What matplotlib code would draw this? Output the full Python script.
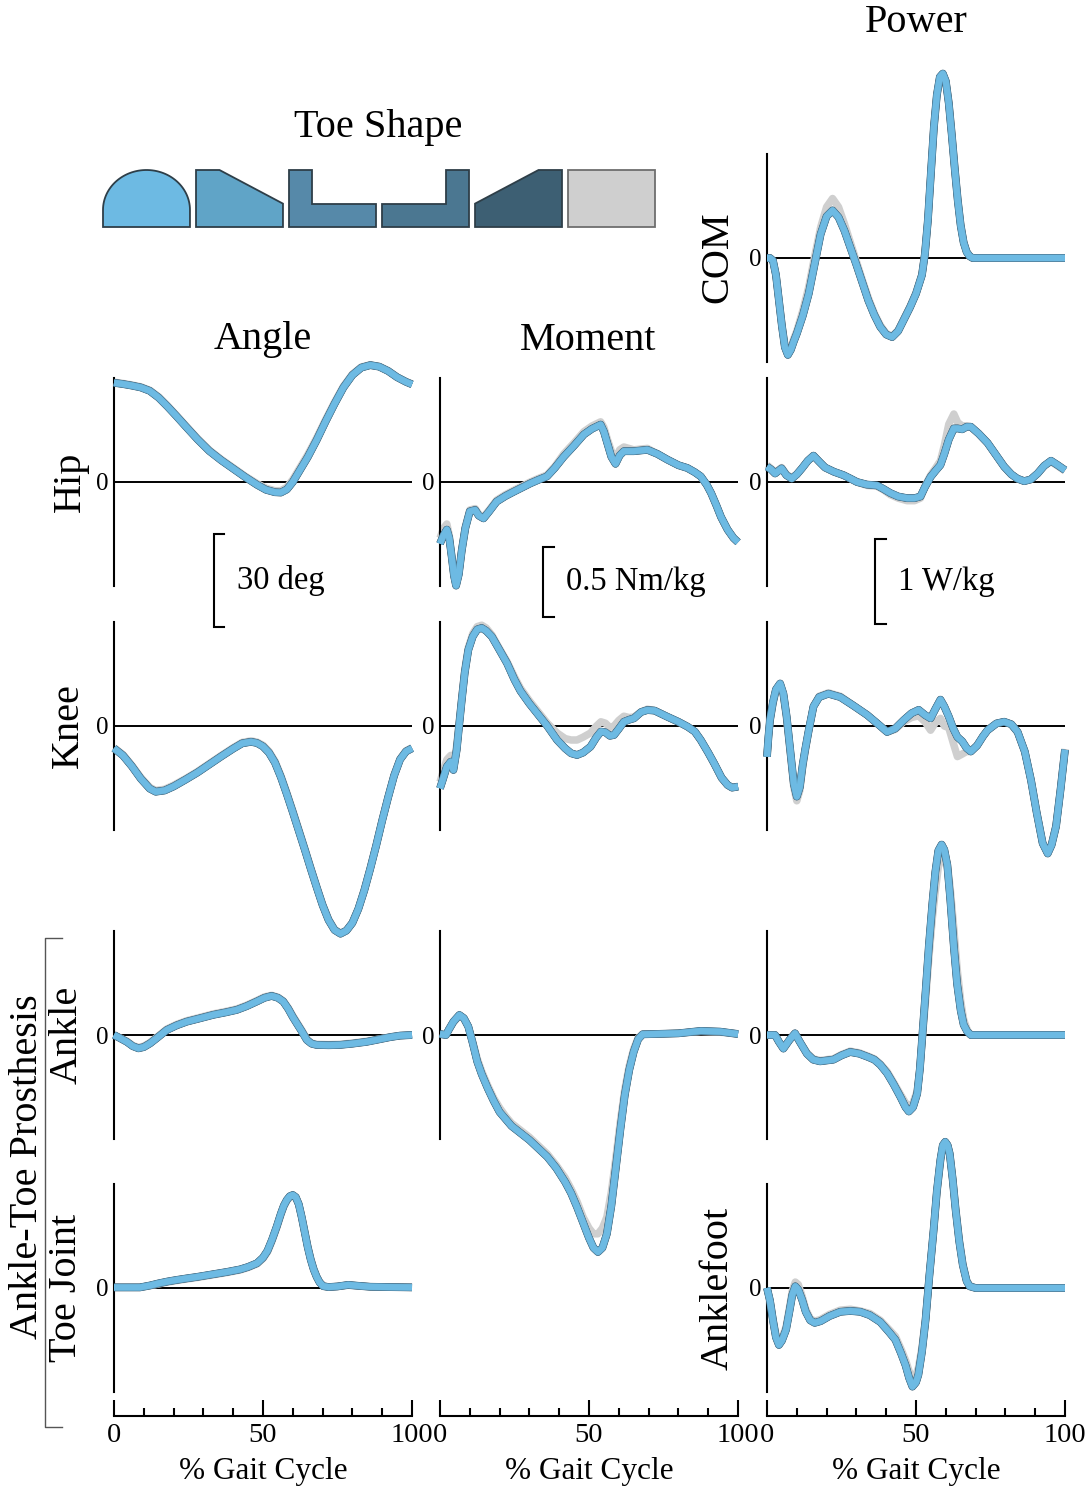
import numpy as np
import matplotlib
matplotlib.use("Agg")
import matplotlib.pyplot as plt
from matplotlib.patches import Polygon
from matplotlib.lines import Line2D

plt.rcParams["font.family"] = ["Liberation Serif", "DejaVu Serif"]

W, H = 1087, 1489

# toe shapes (rounded, sloped-front, L, reversed L, sloped-back) and the reference foot
SHADES = ["#6DBAE3", "#60A4C7", "#5689A9", "#4B7791", "#3D5F73"]
GREY = "#CFCFCF"

# ---------------- joint data (% gait cycle vs value) ----------------
# Hip angle (deg)
hip_ang_x = [0, 3, 6, 9, 12, 15, 18, 21, 24, 28, 32, 36, 40, 44, 48, 51, 54, 56, 58, 60, 62, 65,
             68, 71, 74, 77, 80, 83, 86, 89, 92, 95, 98, 100]
hip_ang_y = [32, 31.6, 31.1, 30.5, 29.4, 27.2, 24.3, 21.2, 18.0, 13.8, 10.0, 7.0, 4.3, 1.6, -0.9,
             -2.5, -3.3, -3.4, -2.4, 0.0, 3.2, 8.0, 13.5, 19.5, 25.2, 30.5, 34.5, 36.9, 37.7,
             37.2, 35.8, 33.8, 32.3, 31.5]
hip_ang_ref = [32.2, 31.8, 31.3, 30.7, 29.6, 27.5, 24.6, 21.5, 18.3, 14.1, 10.3, 7.3, 4.6, 1.9,
               -0.5, -2.0, -2.8, -2.8, -1.7, 0.8, 4.0, 8.8, 14.2, 20.1, 25.7, 30.9, 34.8, 37.1,
               37.8, 37.3, 35.9, 33.9, 32.4, 31.6]

# Hip moment (Nm/kg)
hip_mom_x = [0, 1.2, 2.3, 3.1, 3.9, 4.7, 5.4, 6.3, 7.3, 8.5, 10, 11.8, 13, 14.6, 16.5, 19, 22,
             24.7, 27.5, 30.3, 33, 35.9, 38.5, 41.5, 45, 48.3, 51, 53.9, 55, 56.1, 57.5, 58.9,
             60.3, 61.7, 65, 69.6, 73, 76.3, 80, 83, 85.5, 87.5, 89.5, 91, 92.8, 94.3, 96.5,
             98.5, 100]
hip_mom_y = [-0.44, -0.38, -0.34, -0.40, -0.53, -0.67, -0.74, -0.66, -0.49, -0.33, -0.21, -0.20,
             -0.24, -0.26, -0.21, -0.14, -0.10, -0.07, -0.04, -0.01, 0.015, 0.04, 0.10, 0.18,
             0.26, 0.34, 0.38, 0.41, 0.36, 0.28, 0.18, 0.13, 0.19, 0.22, 0.22, 0.23, 0.20, 0.16,
             0.12, 0.10, 0.07, 0.04, -0.02, -0.08, -0.17, -0.25, -0.34, -0.40, -0.43]
hip_mom_ref = [-0.40, -0.33, -0.30, -0.38, -0.52, -0.66, -0.73, -0.65, -0.48, -0.32, -0.20,
               -0.19, -0.23, -0.25, -0.20, -0.13, -0.09, -0.06, -0.03, 0.0, 0.025, 0.05, 0.11,
               0.20, 0.28, 0.36, 0.40, 0.43, 0.39, 0.31, 0.22, 0.17, 0.23, 0.25, 0.23, 0.24,
               0.20, 0.16, 0.12, 0.10, 0.07, 0.04, -0.02, -0.08, -0.17, -0.25, -0.34, -0.40,
               -0.43]

# Hip power (W/kg)
hip_pow_x = [0, 1.3, 2.7, 3.8, 4.9, 6.5, 8.3, 10, 11.7, 13.7, 15.6, 17.5, 19.5, 22.5, 25.7, 28,
             30.2, 33.5, 36.9, 39, 41.4, 44, 47, 49.5, 51.5, 53, 54.9, 56.5, 58.2, 59.5, 61,
             62.7, 64, 65.5, 67, 68.4, 71, 74, 77, 79.6, 82, 84, 86.3, 88.5, 90.8, 93, 95.3,
             97.5, 100]
hip_pow_y = [0.18, 0.15, 0.10, 0.13, 0.16, 0.08, 0.04, 0.09, 0.16, 0.25, 0.31, 0.24, 0.17, 0.12,
             0.08, 0.04, 0.0, -0.03, -0.04, -0.08, -0.13, -0.17, -0.19, -0.19, -0.17, -0.06,
             0.06, 0.13, 0.20, 0.33, 0.50, 0.63, 0.63, 0.62, 0.65, 0.65, 0.57, 0.46, 0.31, 0.18,
             0.09, 0.04, 0.01, 0.03, 0.10, 0.19, 0.25, 0.20, 0.14]
hip_pow_ref = [0.20, 0.16, 0.12, 0.14, 0.17, 0.09, 0.05, 0.09, 0.16, 0.25, 0.31, 0.24, 0.17,
               0.12, 0.08, 0.04, 0.0, -0.04, -0.05, -0.09, -0.15, -0.19, -0.22, -0.22, -0.19,
               -0.05, 0.08, 0.16, 0.25, 0.43, 0.68, 0.80, 0.70, 0.66, 0.66, 0.65, 0.57, 0.46,
               0.31, 0.18, 0.09, 0.04, 0.01, 0.03, 0.10, 0.19, 0.24, 0.19, 0.13]

# Centre-of-mass power (W/kg)
com_pow_x = [0, 1, 2, 3, 4, 5, 6, 7, 8, 9, 10, 12, 14, 16, 18, 20, 22, 24, 26, 28, 30, 32, 34, 36,
             38, 40, 42, 44, 46, 48, 50, 52, 53, 54, 55, 56, 57, 58, 59, 60, 61, 62, 63, 64, 65,
             66, 67, 68, 69, 100]
com_pow_y = [0, 0, -0.03, -0.20, -0.50, -0.80, -1.05, -1.14, -1.08, -0.98, -0.89, -0.68, -0.42,
             -0.07, 0.28, 0.49, 0.56, 0.48, 0.32, 0.12, -0.08, -0.29, -0.50, -0.67, -0.81,
             -0.90, -0.93, -0.86, -0.72, -0.58, -0.42, -0.20, 0.05, 0.45, 1.00, 1.54, 1.92,
             2.13, 2.17, 2.08, 1.82, 1.45, 1.05, 0.68, 0.38, 0.18, 0.07, 0.02, 0, 0]
com_pow_ref = [0, 0, -0.03, -0.19, -0.48, -0.78, -1.02, -1.12, -1.06, -0.95, -0.86, -0.62,
               -0.34, 0.02, 0.36, 0.60, 0.70, 0.60, 0.40, 0.18, -0.04, -0.26, -0.47, -0.65,
               -0.79, -0.89, -0.92, -0.85, -0.71, -0.57, -0.41, -0.19, 0.05, 0.43, 0.97, 1.51,
               1.90, 2.11, 2.16, 2.08, 1.84, 1.48, 1.08, 0.71, 0.40, 0.19, 0.08, 0.02, 0, 0]

# Knee angle (deg)
knee_ang_x = [0, 3, 6, 9, 12, 14, 17, 20, 24, 28, 32, 36, 40, 43, 46, 48, 50, 52, 54, 56, 58, 60,
              62, 64, 66, 68, 70, 72, 74, 76, 78, 80, 82, 84, 86, 88, 90, 92, 94, 96, 98, 100]
knee_ang_y = [-7.2, -9.5, -13, -17, -20.2, -21.2, -20.8, -19.5, -17.3, -15, -12.4, -9.8, -7.3,
              -5.6, -5.1, -5.5, -6.6, -8.6, -11.8, -16.5, -22, -27.8, -33.8, -39.8, -46, -52,
              -57.8, -62.6, -65.8, -67, -66, -63.5, -59, -53, -46, -38.5, -30.5, -23, -16,
              -10.8, -8.2, -7.2]
knee_ang_ref = [-7.0, -9.2, -12.7, -16.6, -19.8, -20.8, -20.4, -19.1, -17.0, -14.7, -12.1, -9.5,
                -7.0, -5.3, -4.8, -5.2, -6.2, -8.2, -11.3, -16.0, -21.5, -27.3, -33.3, -39.4,
                -45.6, -51.7, -57.5, -62.3, -65.6, -66.8, -65.9, -63.4, -58.9, -52.8, -45.8,
                -38.3, -30.3, -22.8, -15.8, -10.6, -8.0, -7.0]

# Knee moment (Nm/kg)
knee_mom_x = [0, 1, 2.3, 3.6, 4.5, 5.6, 6.5, 7.3, 8.3, 9.5, 11, 12.5, 14, 15.5, 17.4, 19.5, 22.5,
              25, 27, 30, 33, 36, 39.3, 42, 44, 46, 48, 50.5, 52.5, 54, 55.5, 57, 58.4, 60, 61.7,
              63.5, 65.1, 67.5, 69.6, 72, 76.3, 80, 83.1, 85.5, 87.5, 90, 92, 94.5, 96.5, 98,
              100]
knee_mom_y = [-0.445, -0.38, -0.29, -0.255, -0.314, -0.171, 0.02, 0.186, 0.38, 0.543, 0.64, 0.69,
              0.70, 0.68, 0.638, 0.56, 0.448, 0.33, 0.25, 0.16, 0.08, 0.0, -0.10, -0.16, -0.195,
              -0.207, -0.19, -0.148, -0.08, -0.04, -0.045, -0.07, -0.064, -0.02, 0.03, 0.045,
              0.055, 0.10, 0.114, 0.11, 0.066, 0.03, -0.005, -0.04, -0.10, -0.19, -0.267, -0.37,
              -0.421, -0.44, -0.433]
knee_mom_ref = [-0.40, -0.33, -0.24, -0.21, -0.27, -0.14, 0.04, 0.20, 0.40, 0.56, 0.66, 0.71,
                0.72, 0.70, 0.65, 0.57, 0.46, 0.35, 0.27, 0.18, 0.10, 0.02, -0.05, -0.09, -0.10,
                -0.10, -0.08, -0.05, 0.0, 0.03, 0.02, -0.01, 0.0, 0.04, 0.07, 0.06, 0.065, 0.10,
                0.12, 0.11, 0.066, 0.03, -0.005, -0.04, -0.10, -0.19, -0.267, -0.37, -0.421,
                -0.44, -0.433]

# Knee power (W/kg)
knee_pow_x = [0, 0.5, 1, 2, 3, 4.4, 5.5, 6.6, 8, 9, 10, 11, 12, 12.8, 14, 15.6, 17.5, 20.6, 24.6,
              29, 33.6, 37, 40.3, 43, 45.9, 48.5, 50.9, 53, 54.9, 56.5, 58.2, 59.5, 61, 62.5,
              63.9, 65.5, 67, 68.4, 70.5, 72.5, 74, 77, 79.6, 82, 84.1, 86.5, 88.6, 90.5, 92.5,
              94.2, 95.5, 97, 98.5, 100]
knee_pow_y = [-0.36, -0.12, 0.07, 0.28, 0.43, 0.50, 0.38, 0.11, -0.35, -0.68, -0.83, -0.72, -0.45,
              -0.28, -0.05, 0.23, 0.34, 0.38, 0.34, 0.24, 0.13, 0.03, -0.07, -0.03, 0.07, 0.15,
              0.19, 0.13, 0.09, 0.20, 0.31, 0.23, 0.11, -0.03, -0.13, -0.18, -0.26, -0.30, -0.23,
              -0.12, -0.05, 0.03, 0.05, 0.02, -0.07, -0.30, -0.64, -1.02, -1.38, -1.50, -1.40,
              -1.18, -0.75, -0.28]
knee_pow_ref = [-0.36, -0.13, 0.05, 0.26, 0.41, 0.48, 0.36, 0.08, -0.38, -0.72, -0.88, -0.76,
                -0.48, -0.30, -0.06, 0.23, 0.35, 0.39, 0.35, 0.24, 0.13, 0.03, -0.07, -0.04,
                0.05, 0.10, 0.12, 0.05, -0.05, 0.04, 0.09, 0.00, -0.02, -0.20, -0.36, -0.33,
                -0.30, -0.30, -0.23, -0.12, -0.05, 0.03, 0.05, 0.02, -0.07, -0.30, -0.63, -1.01,
                -1.37, -1.49, -1.39, -1.17, -0.74, -0.27]

# Prosthesis ankle angle (deg)
ank_ang_x = [0, 2, 4.3, 6.3, 8.2, 10, 12.1, 14.5, 17.7, 21, 24.4, 28.5, 33.3, 37.5, 41.2, 44.5,
             47.9, 50.5, 52.9, 55, 56.8, 58.5, 60, 61.3, 63, 64.7, 66.3, 68, 72, 75.8, 80, 84.8,
             89, 92.6, 96, 100]
ank_ang_y = [0, -1.0, -2.2, -3.6, -4.3, -3.9, -2.7, -0.9, 1.6, 3.1, 4.3, 5.3, 6.5, 7.3, 8.1, 9.3,
             10.8, 12.0, 12.6, 12.0, 10.8, 8.4, 5.8, 3.8, 1.2, -1.6, -2.8, -3.2, -3.3, -3.2,
             -2.8, -2.2, -1.4, -0.7, -0.2, 0]
ank_ang_ref = [0, -0.9, -2.0, -3.4, -4.0, -3.6, -2.4, -0.6, 1.9, 3.4, 4.6, 5.6, 6.8, 7.6, 8.4,
               9.6, 11.1, 12.3, 12.8, 12.2, 11.0, 8.7, 6.2, 4.2, 1.6, -1.3, -2.6, -3.0, -3.1,
               -3.0, -2.6, -2.0, -1.3, -0.6, -0.2, 0]

# Prosthesis ankle moment (Nm/kg)
ank_mom_x = [0, 2, 3, 4.5, 6.5, 8, 9.5, 11, 12.5, 14, 16, 18, 20, 22, 24, 27, 30, 33, 36, 39, 42,
             44, 46, 48, 50, 51.5, 53, 54.5, 56, 57.5, 59, 60.5, 62, 63.5, 65, 66.5, 68, 72, 80,
             87.5, 94, 100]
ank_mom_y = [0.007, 0, 0.04, 0.095, 0.143, 0.12, 0.06, -0.06, -0.19, -0.28, -0.38, -0.47, -0.55,
             -0.60, -0.65, -0.70, -0.75, -0.81, -0.87, -0.95, -1.05, -1.13, -1.23, -1.34, -1.45,
             -1.52, -1.55, -1.52, -1.42, -1.22, -0.95, -0.68, -0.43, -0.25, -0.12, -0.03, 0.005,
             0.007, 0.012, 0.029, 0.024, 0.007]
ank_mom_ref = [0.007, 0, 0.04, 0.09, 0.14, 0.12, 0.06, -0.05, -0.17, -0.26, -0.36, -0.45, -0.52,
               -0.58, -0.63, -0.68, -0.73, -0.79, -0.85, -0.93, -1.02, -1.10, -1.19, -1.30,
               -1.38, -1.42, -1.42, -1.38, -1.30, -1.12, -0.88, -0.62, -0.39, -0.22, -0.10,
               -0.02, 0.005, 0.007, 0.012, 0.025, 0.02, 0.007]

# Prosthesis ankle power (W/kg)
ank_pow_x = [0, 2.7, 4, 5.5, 7.5, 9.4, 11, 13.4, 15.5, 17.8, 20, 22.3, 25, 27.9, 31, 34, 36, 38,
             40.3, 42.5, 44.8, 46.5, 47.6, 49, 50.4, 51.3, 52.1, 53.2, 54.3, 55.5, 56.5, 57.5,
             58.6, 59.5, 60.5, 61.5, 62.7, 63.8, 65, 66, 67.2, 68.4, 100]
ank_pow_y = [0, 0, -0.08, -0.16, -0.06, 0.02, -0.08, -0.22, -0.29, -0.31, -0.30, -0.29, -0.24,
             -0.20, -0.22, -0.26, -0.29, -0.35, -0.45, -0.58, -0.73, -0.85, -0.90, -0.85, -0.69,
             -0.40, -0.02, 0.50, 1.04, 1.55, 1.92, 2.17, 2.24, 2.18, 2.00, 1.60, 1.04, 0.60,
             0.29, 0.12, 0.04, 0, 0]
ank_pow_ref = [0, 0, -0.08, -0.15, -0.06, 0.02, -0.08, -0.21, -0.28, -0.30, -0.29, -0.28, -0.23,
               -0.19, -0.21, -0.25, -0.28, -0.34, -0.43, -0.56, -0.70, -0.80, -0.84, -0.80,
               -0.66, -0.40, -0.05, 0.40, 0.90, 1.38, 1.70, 1.98, 2.08, 2.10, 2.02, 1.72, 1.25,
               0.78, 0.40, 0.18, 0.06, 0, 0]

# Toe joint angle (deg)
toe_ang_x = [0, 5, 8.7, 12, 15, 18, 21, 24.4, 28, 33, 38, 42.3, 45, 48, 50, 51.5, 53, 54.6, 56,
             57, 58, 59, 60, 61, 62, 63, 64, 65, 66, 67, 68, 69, 70.2, 72, 75, 78.6, 82, 86, 92,
             100]
toe_ang_y = [0.2, 0.2, 0.2, 0.8, 1.5, 2.1, 2.6, 3.1, 3.6, 4.4, 5.2, 6.0, 6.8, 8.0, 9.8, 12.0,
             15.5, 19.8, 24.0, 26.6, 28.4, 29.6, 30.0, 29.3, 27.0, 22.8, 18.0, 13.2, 9.2, 6.0,
             3.6, 1.8, 0.6, 0.3, 0.5, 1.0, 0.7, 0.4, 0.3, 0.2]
toe_ang_ref = [0.2, 0.2, 0.2, 0.7, 1.3, 1.9, 2.4, 2.9, 3.4, 4.2, 5.0, 5.8, 6.6, 7.8, 9.5, 11.6,
               15.1, 19.4, 23.6, 26.3, 28.1, 29.3, 29.7, 29.1, 27.0, 23.0, 18.3, 13.6, 9.6, 6.3,
               3.8, 2.0, 0.7, 0.3, 0.5, 0.9, 0.7, 0.4, 0.3, 0.2]

# Ankle-foot power (W/kg)
af_pow_x = [0, 1, 2, 3, 4, 5, 6.4, 7.5, 8.5, 9.5, 10.5, 11.8, 13, 14.5, 16, 18, 21, 24.6, 28,
            31.3, 34.5, 38, 41, 43.1, 45, 46.5, 47.7, 48.8, 50, 50.8, 52, 53.2, 54.5, 55.9, 57,
            58.2, 59, 59.8, 60.6, 61.3, 62.3, 63.3, 64.5, 65.7, 67, 68, 70, 100]
af_pow_y = [0, -0.15, -0.38, -0.58, -0.67, -0.62, -0.49, -0.28, -0.08, 0.02, -0.02, -0.14, -0.28,
            -0.38, -0.41, -0.39, -0.33, -0.28, -0.27, -0.28, -0.32, -0.40, -0.52, -0.61, -0.77,
            -0.91, -1.06, -1.16, -1.11, -1.02, -0.75, -0.38, 0.15, 0.68, 1.14, 1.51, 1.68,
            1.72, 1.68, 1.58, 1.28, 0.92, 0.55, 0.27, 0.08, 0.02, 0, 0]
af_pow_ref = [0, -0.14, -0.36, -0.55, -0.64, -0.59, -0.46, -0.24, -0.03, 0.07, 0.04, -0.10,
              -0.25, -0.36, -0.39, -0.37, -0.31, -0.26, -0.25, -0.27, -0.30, -0.38, -0.49, -0.57,
              -0.72, -0.85, -0.98, -1.05, -1.02, -0.94, -0.70, -0.36, 0.15, 0.66, 1.11, 1.48,
              1.66, 1.71, 1.68, 1.59, 1.30, 0.95, 0.58, 0.29, 0.09, 0.03, 0, 0]

PCT_TICKS = [0, 50, 100]
PCT_MINOR = list(range(0, 101, 10))

# ---------------- layout (pixels) ----------------
COL_LEFT = {"angle": 114, "moment": 440, "power": 767}
COL_W = 298
PX_PER_UNIT = {"angle": 3.1, "moment": 140.0, "power": 85.0}
ROW_ZERO = {"com": 258, "hip": 482, "knee": 726, "ankle": 1035, "toe": 1288}
SPINE_H = 208

fig = plt.figure(figsize=(W / 100, H / 100), dpi=100)
fig.patch.set_facecolor("white")


def make_panel(col, row):
    left = COL_LEFT[col]
    zero = ROW_ZERO[row]
    bottom = H - (zero + SPINE_H / 2)
    ax = fig.add_axes([left / W, bottom / H, COL_W / W, SPINE_H / H])
    lim = (SPINE_H / 2) / PX_PER_UNIT[col]
    ax.set_xlim(0, 100)
    ax.set_ylim(-lim, lim)
    ax.patch.set_alpha(0)
    for s in ("top", "right", "bottom"):
        ax.spines[s].set_visible(False)
    ax.spines["left"].set_linewidth(1.5)
    ax.set_xticks([])
    ax.set_yticks([0])
    ax.set_yticklabels(["0"])
    ax.tick_params(axis="y", length=0, labelsize=18, pad=4)
    ax.axhline(0, xmin=0, xmax=1, color="black", lw=1.4, zorder=1)
    return ax


def draw_curves(ax, x, y, ref):
    ax.plot(x, ref, color=GREY, lw=5.4, clip_on=False, zorder=2,
            solid_capstyle="butt", solid_joinstyle="round")
    widths = [4.4, 4.7, 5.0, 5.3, 5.6]
    for k in range(len(SHADES) - 1, -1, -1):
        ax.plot(x, y, color=SHADES[k], lw=widths[k], clip_on=False, zorder=3,
                solid_capstyle="butt", solid_joinstyle="round")


def scale_bar(ax, x, top, length, label, tick, gap):
    ax.plot([x + tick, x, x, x + tick], [top, top, top - length, top - length],
            color="black", lw=1.5, clip_on=False, solid_joinstyle="miter")
    ax.text(x + gap, top - length / 2, label, fontsize=23.5, ha="left", va="center")


panels = [
    ("power", "com", com_pow_x, com_pow_y, com_pow_ref),
    ("angle", "hip", hip_ang_x, hip_ang_y, hip_ang_ref),
    ("moment", "hip", hip_mom_x, hip_mom_y, hip_mom_ref),
    ("power", "hip", hip_pow_x, hip_pow_y, hip_pow_ref),
    ("angle", "knee", knee_ang_x, knee_ang_y, knee_ang_ref),
    ("moment", "knee", knee_mom_x, knee_mom_y, knee_mom_ref),
    ("power", "knee", knee_pow_x, knee_pow_y, knee_pow_ref),
    ("angle", "ankle", ank_ang_x, ank_ang_y, ank_ang_ref),
    ("moment", "ankle", ank_mom_x, ank_mom_y, ank_mom_ref),
    ("power", "ankle", ank_pow_x, ank_pow_y, ank_pow_ref),
    ("angle", "toe", toe_ang_x, toe_ang_y, toe_ang_ref),
    ("power", "toe", af_pow_x, af_pow_y, af_pow_ref),
]

axes = {}
for col, row, x, y, ref in panels:
    ax = make_panel(col, row)
    draw_curves(ax, x, y, ref)
    axes[(col, row)] = ax

# scale bars under the hip row
scale_bar(axes[("angle", "hip")], 33.6, -16.8, 30, "30 deg", 3.4, 7.7)
scale_bar(axes[("moment", "hip")], 34.7, -0.464, 0.5, "0.5 Nm/kg", 3.4, 7.7)
scale_bar(axes[("power", "hip")], 36.4, -0.67, 1.0, "1 W/kg", 3.4, 7.7)

# shared % gait cycle axes
for col, left in COL_LEFT.items():
    axx = fig.add_axes([left / W, (H - 1416) / H, COL_W / W, 1 / H])
    axx.patch.set_alpha(0)
    for s in ("top", "right", "left"):
        axx.spines[s].set_visible(False)
    axx.spines["bottom"].set_linewidth(1.5)
    axx.set_xlim(0, 100)
    axx.set_yticks([])
    axx.set_xticks(PCT_TICKS)
    axx.set_xticks(PCT_MINOR, minor=True)
    axx.tick_params(axis="x", which="major", direction="in", length=11.5, width=1.5,
                    labelsize=20.5, pad=5)
    axx.tick_params(axis="x", which="minor", direction="in", length=6, width=1.5)
    fig.text((left + COL_W / 2) / W, 1 - 1471 / H, "% Gait Cycle", fontsize=22.5,
             ha="center", va="center")

# column and row titles
title_kw = dict(fontsize=29, ha="center", va="center")
fig.text(263 / W, 1 - 340 / H, "Angle", **title_kw)
fig.text(588 / W, 1 - 340 / H, "Moment", **title_kw)
fig.text(916 / W, 1 - 22 / H, "Power", **title_kw)
fig.text(378 / W, 1 - 128 / H, "Toe Shape", **title_kw)

row_labels = [("Hip", 70, 482), ("Knee", 68, 726), ("Ankle", 67, 1035),
              ("Toe Joint", 67, 1288), ("COM", 718, 257), ("Anklefoot", 718, 1288)]
for text, px, py in row_labels:
    fig.text(px / W, 1 - py / H, text, rotation=90, **title_kw)

fig.text(28 / W, 1 - 1167 / H, "Ankle-Toe Prosthesis", rotation=90, **title_kw)
fig.add_artist(Line2D([62 / W, 45 / W, 45 / W, 62 / W],
                      [1 - 938 / H, 1 - 938 / H, 1 - 1427 / H, 1 - 1427 / H],
                      transform=fig.transFigure, color="#555555", lw=1.0))

# toe shape key
axk = fig.add_axes([103 / W, (H - 227) / H, 552 / W, 57 / H])
axk.set_xlim(0, 5.935)
axk.set_ylim(0, 1)
axk.axis("off")
w = 0.935
t = np.linspace(0, np.pi, 60)
dome = [(0, 0)] + [(w / 2 - w / 2 * np.cos(a), 0.3 + 0.7 * np.sin(a)) for a in t] + [(w, 0)]
outlines = [
    dome,
    [(0, 0), (0, 1), (0.27 * w, 1), (w, 0.41), (w, 0)],
    [(0, 0), (0, 1), (0.27 * w, 1), (0.27 * w, 0.41), (w, 0.41), (w, 0)],
    [(0, 0), (0, 0.41), (0.73 * w, 0.41), (0.73 * w, 1), (w, 1), (w, 0)],
    [(0, 0), (0, 0.41), (0.73 * w, 1), (w, 1), (w, 0)],
    [(0, 0), (0, 1), (w, 1), (w, 0)],
]
key_colors = SHADES + [GREY]
for i, (pts, c) in enumerate(zip(outlines, key_colors)):
    shifted = [(px + i, py) for px, py in pts]
    axk.add_patch(Polygon(shifted, closed=True, facecolor=c, clip_on=False,
                          edgecolor="#6E6E6E" if c == GREY else "#2E3E48", lw=1.3))

fig.savefig("out.png", dpi=100, facecolor="white")
